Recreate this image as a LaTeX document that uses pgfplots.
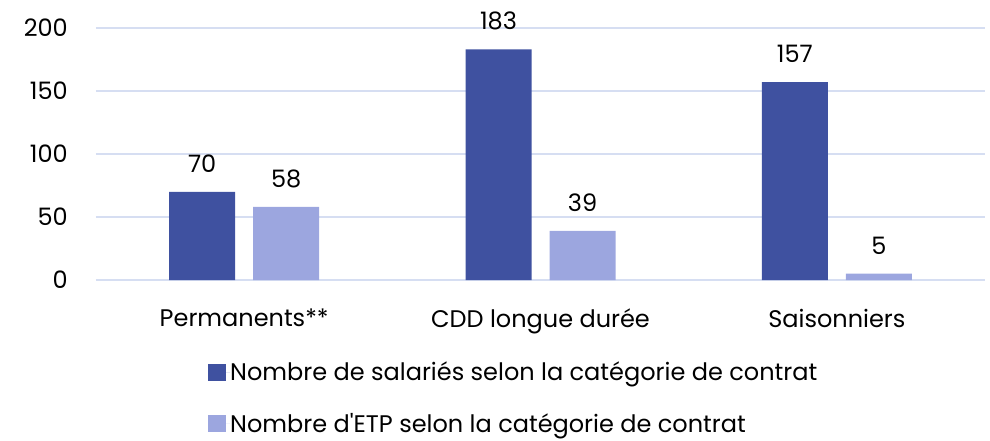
\documentclass[border=0pt]{standalone}
\usepackage{pgfplots}
\pgfplotsset{compat=1.18}
\usepackage{fontspec}
\setmainfont{Poppins}
\definecolor{dark}{HTML}{3F51A0}
\definecolor{light}{HTML}{9CA6DF}
\definecolor{gridc}{HTML}{D6DEF2}
\begin{document}
\begin{tikzpicture}[x=1pt,y=1pt]
\begin{axis}[
  at={(96pt,160pt)}, anchor=south west,
  scale only axis, width=889pt, height=252pt,
  xmin=-0.5, xmax=2.5, ymin=0, ymax=200,
  ytick={0,50,100,150,200},
  xtick={0,1,2},
  xticklabels={Permanents**,CDD longue durée,Saisonniers},
  /pgf/number format/assume math mode=true,
  font=\fontsize{24}{28}\selectfont,
  ybar=18pt, bar width=66pt,
  axis line style={draw=none},
  major tick length=0pt,
  ymajorgrids, grid style={gridc, line width=1.5pt},
  yticklabel style={anchor=east, inner sep=0pt, xshift=-28pt},
  xticklabel style={anchor=north, inner sep=0pt, yshift=-29pt},
  nodes near coords,
  every node near coord/.append style={anchor=south, inner sep=0pt, yshift=19pt, text=black, font=\fontsize{24}{28}\selectfont},
  clip=false,
  legend style={at={(axis description cs:0.126,-0.325)}, anchor=north west, draw=none, fill=none,
    legend cell align=left, row sep=31pt, inner sep=0pt,
    nodes={inner sep=0pt},
    font=\fontsize{24}{28}\selectfont},
  legend image code/.code={\fill[#1] (0pt,-8.5pt) rectangle (18pt,8.5pt); \path (0pt,0pt) -- (22pt,0pt);},
]
\addplot[fill=dark, draw=none] coordinates {(0,70) (1,183) (2,157)};
\addplot[fill=light, draw=none] coordinates {(0,58) (1,39) (2,5)};
\legend{Nombre de salariés selon la catégorie de contrat, Nombre d\textquotesingle ETP selon la catégorie de contrat}
\end{axis}
\pgfresetboundingbox
\path (0,0) rectangle (990,440);
\end{tikzpicture}
\end{document}
